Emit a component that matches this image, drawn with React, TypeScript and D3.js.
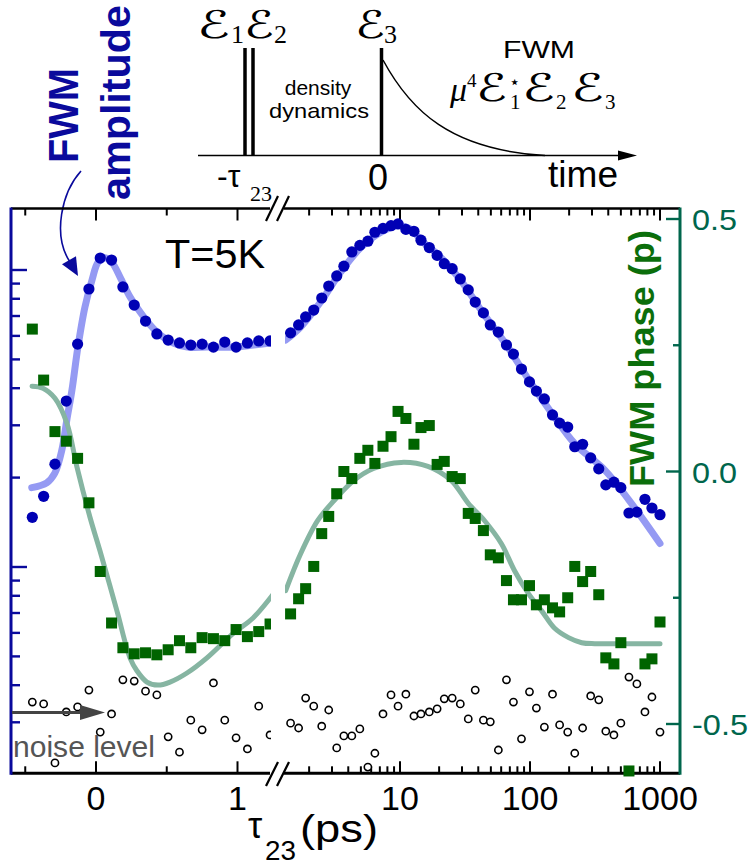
import React from 'react';
import * as d3 from 'd3';

const W = 751;
const H = 865;

// ---------- data: segment 1 (linear delay axis, ps) ----------
const seg1Delay = [-0.45, -0.37, -0.29, -0.21, -0.13, -0.05, 0.03, 0.11, 0.19, 0.27, 0.35, 0.43, 0.51, 0.59, 0.67, 0.75, 0.83, 0.91, 0.99, 1.07, 1.15, 1.23];
const seg1Amp = [1.47, 1.73, 2.22, 3.62, 5.63, 8.63, 10.97, 10.8, 8.77, 7.62, 6.73, 6.09, 5.81, 5.68, 5.59, 5.63, 5.5, 5.72, 5.5, 5.68, 5.77, 5.77];
const seg1Phase = [0.282, 0.181, 0.079, 0.06, 0.026, -0.062, -0.198, -0.3, -0.349, -0.361, -0.359, -0.363, -0.353, -0.335, -0.349, -0.329, -0.331, -0.335, -0.313, -0.327, -0.317, -0.302];
const seg1Noise = [0.351, 0.346, 0.219, 0.325, 0.338, 0.385, 0.278, 0.32, 0.417, 0.413, 0.382, 0.371, 0.268, 0.238, 0.305, 0.283, 0.407, 0.305, 0.266, 0.244, 0.34, 0.272];

// ---------- data: segment 2 (log delay axis, ps) ----------
const seg2Delay = [1.44, 1.66, 1.88, 2.17, 2.5, 2.83, 3.26, 3.7, 4.26, 4.91, 5.66, 6.41, 7.4, 8.53, 9.66, 11.1, 12.8, 14.5, 16.8, 19.3, 21.9, 25.2, 29.1, 33.5, 37.9, 43.8, 49.5, 57.1, 65.9, 74.6, 86.0, 99.1, 112, 129, 149, 169, 195, 221, 254, 293, 338, 383, 442, 500, 577, 664, 766, 867, 1000];
const seg2Amp = [6.14, 6.53, 6.95, 7.33, 8.05, 8.83, 9.55, 10.3, 11.5, 12.1, 12.5, 13.4, 13.8, 14.1, 14.3, 13.7, 13.5, 12.6, 11.9, 11.2, 10.5, 10.1, 9.33, 8.57, 7.8, 7.17, 6.53, 6.18, 5.59, 5.21, 4.64, 4.2, 3.91, 3.68, 3.25, 3.05, 2.96, 2.54, 2.59, 2.33, 2.14, 1.89, 1.93, 1.85, 1.52, 1.53, 1.69, 1.58, 1.5];
const seg2Phase: (number | null)[] = [-0.282, -0.252, -0.232, -0.188, -0.123, -0.089, -0.044, 0.0, -0.014, 0.026, 0.042, 0.016, 0.05, 0.069, 0.119, 0.105, 0.054, 0.087, 0.091, 0.014, 0.02, -0.01, -0.014, -0.083, -0.093, -0.117, -0.165, -0.171, -0.216, -0.254, -0.254, -0.226, -0.264, -0.254, -0.27, -0.278, -0.25, -0.188, -0.218, -0.198, -0.244, -0.369, -0.381, -0.339, -0.593, null, -0.381, -0.371, -0.298];
const seg2Noise = [0.298, 0.287, 0.362, 0.34, 0.291, 0.33, 0.246, 0.27, 0.27, 0.285, 0.212, 0.236, 0.32, 0.371, 0.34, 0.373, 0.315, 0.32, 0.325, 0.333, 0.36, 0.362, 0.346, 0.308, 0.385, 0.305, 0.301, 0.242, 0.417, 0.351, 0.264, 0.38, 0.335, 0.289, 0.373, 0.294, 0.278, 0.236, 0.287, 0.368, 0.357, 0.28, 0.272, 0.298, 0.426, 0.404, 0.325, 0.365, 0.278];

// ---------- fit curves ----------
const fitAmp1Delay = [-0.454, -0.348, -0.291, -0.241, -0.206, -0.17, -0.128, -0.078, -0.028, 0.014, 0.064, 0.113, 0.17, 0.241, 0.312, 0.383, 0.454, 0.546, 0.645, 0.787, 0.972, 1.113, 1.234];
const fitAmp1 = [1.85, 1.92, 2.07, 2.48, 3.13, 3.94, 5.5, 7.51, 9.25, 10.6, 11.0, 10.6, 9.47, 8.11, 7.22, 6.53, 6.04, 5.68, 5.5, 5.5, 5.5, 5.59, 5.68];
const fitAmp2Delay = [1.32, 1.72, 2.45, 3.5, 5.0, 7.13, 9.66, 12.2, 14.5, 20.7, 29.6, 43.0, 65.9, 99.1, 149, 221, 376, 577, 1000];
const fitAmp2 = [5.81, 6.43, 7.8, 9.85, 11.9, 13.4, 14.1, 13.7, 12.6, 11.0, 9.18, 7.22, 5.59, 4.23, 3.27, 2.6, 2.12, 1.68, 1.2];
const fitPhase1Delay = [-0.452, -0.375, -0.29, -0.205, -0.134, -0.042, 0.028, 0.148, 0.24, 0.29, 0.36, 0.438, 0.523, 0.643, 0.784, 0.968, 1.11, 1.244];
const fitPhase1 = [0.169, 0.165, 0.145, 0.095, 0.008, -0.091, -0.157, -0.276, -0.369, -0.395, -0.417, -0.423, -0.417, -0.399, -0.369, -0.321, -0.29, -0.246];
const fitPhase2Delay = [1.32, 1.72, 2.33, 3.1, 4.4, 6.26, 10.2, 16.4, 24.8, 33.5, 44.6, 60.3, 75.9, 97.3, 123, 154, 198, 250, 315, 507, 1000];
const fitPhase2 = [-0.236, -0.163, -0.097, -0.058, -0.018, 0.006, 0.018, 0.01, -0.018, -0.063, -0.097, -0.143, -0.196, -0.242, -0.276, -0.31, -0.329, -0.339, -0.341, -0.341, -0.341];

// ---------- ticks ----------
const linTicks = [-0.5, 0, 0.5, 1];
const linLabels = ['0', '1'];
const linLabelVals = [0, 1];
const logTicks = [2, 3, 4, 5, 6, 7, 8, 9, 10, 20, 30, 40, 50, 60, 70, 80, 90, 100, 200, 300, 400, 500, 600, 700, 800, 900, 1000];
const logLabels = ['10', '100', '1000'];
const logLabelVals = [10, 100, 1000];
const ampTicks = [0.3, 0.4, 0.5, 0.6, 0.7, 0.8, 0.9, 1, 2, 3, 4, 5, 6, 7, 8, 9, 10];
const phaseTicks = [-0.5, -0.25, 0, 0.25, 0.5];
const phaseLabels = ['-0.5', '0.0', '0.5'];
const phaseLabelVals = [-0.5, 0, 0.5];

// ---------- scales ----------
const xLin = d3.scaleLinear().domain([0, 1]).range([96, 237.5]);
const xLog = d3.scaleLog().domain([10, 1000]).range([400, 660]);
const yAmp = d3.scaleLog().domain([1, 10]).range([567, 270]);
const yPh = d3.scaleLinear().domain([0, 0.5]).range([471.5, 219]);

const PL = 11, PR = 680, PT = 208.5, PB = 773.3;
const BREAK1 = 271, BREAK2 = 285;

const SANS = 'Liberation Sans, Arial, sans-serif';
const SERIF = 'Liberation Serif, DejaVu Serif, serif';
const BLUE = '#0000b4';
const NAVY = '#0a0a9c';
const GREEN = '#006400';
const AXGREEN = '#00664c';

const isMajorLog = (v: number) => Math.abs(Math.log10(v) - Math.round(Math.log10(v))) < 1e-9;

export default function App() {
  const lineLin = (xs: number[], ys: number[], y: (v: number) => number) =>
    d3.line<number>().x((_, i) => xLin(xs[i])).y((_, i) => y(ys[i])).curve(d3.curveCatmullRom.alpha(0.5))(ys) || '';
  const lineLog = (xs: number[], ys: number[], y: (v: number) => number) =>
    d3.line<number>().x((_, i) => xLog(xs[i])).y((_, i) => y(ys[i])).curve(d3.curveCatmullRom.alpha(0.5))(ys) || '';

  const sq = 11;
  const script = (x: number, y: number, size = 38, len = 30) => (
    <text x={x} y={y} fontFamily="DejaVu Serif, DejaVu Sans, serif" fontStyle="italic" fontSize={size} textLength={len} lengthAdjust="spacingAndGlyphs">ℰ</text>
  );

  const labelLen = (s: string) => (s.startsWith('-') ? 56 : 45);

  return (
    <svg width={W} height={H} style={{ position: 'absolute', left: 0, top: 0, background: '#fff' }}>
      <defs>
        <clipPath id="c1"><rect x={0} y={0} width={BREAK1} height={H} /></clipPath>
        <clipPath id="c2"><rect x={BREAK2} y={0} width={W - BREAK2} height={H} /></clipPath>
      </defs>

      {/* ---------- schematic at top ---------- */}
      <g>
        <line x1={198} y1={155.5} x2={622} y2={155.5} stroke="#000" strokeWidth={1.6} />
        <polygon points="618,150.5 637,155.5 618,160.5" fill="#000" />
        <line x1={245} y1={48} x2={245} y2={155.5} stroke="#000" strokeWidth={3.5} />
        <line x1={253} y1={48} x2={253} y2={155.5} stroke="#000" strokeWidth={3.5} />
        <line x1={381.5} y1={48} x2={381.5} y2={155.5} stroke="#000" strokeWidth={3.5} />
        <path d="M383,60 C410,110 450,150 545,155.5" fill="none" stroke="#000" strokeWidth={1.5} />
        {script(197, 38, 38, 33)}
        <text x={231} y={43} fontFamily={SERIF} fontSize={26}>1</text>
        {script(244, 38, 38, 30)}
        <text x={274} y={43} fontFamily={SERIF} fontSize={26}>2</text>
        {script(355, 38, 38, 30)}
        <text x={384} y={43} fontFamily={SERIF} fontSize={26}>3</text>
        <text x={318} y={95} fontFamily={SANS} fontSize={21} textAnchor="middle">density</text>
        <text x={319} y={118} fontFamily={SANS} fontSize={21} textAnchor="middle" textLength={100} lengthAdjust="spacingAndGlyphs">dynamics</text>
        <text x={503} y={58} fontFamily={SANS} fontSize={24} textLength={72} lengthAdjust="spacingAndGlyphs">FWM</text>
        <text x={450} y={101} fontFamily={SERIF} fontStyle="italic" fontSize={34}>μ</text>
        <text x={467} y={87} fontFamily={SERIF} fontSize={19}>4</text>
        {script(476, 101, 38, 31)}
        <text x={509} y={88} fontFamily="DejaVu Sans, sans-serif" fontSize={18}>⋆</text>
        <text x={510} y={109} fontFamily={SERIF} fontSize={21}>1</text>
        {script(522, 101, 38, 33)}
        <text x={556} y={109} fontFamily={SERIF} fontSize={21}>2</text>
        {script(571, 101, 38, 33)}
        <text x={605} y={109} fontFamily={SERIF} fontSize={21}>3</text>
        <text x={217} y={187} fontFamily={SANS} fontSize={32}>-τ</text>
        <text x={250} y={201} fontFamily={SERIF} fontSize={22}>23</text>
        <text x={378} y={190} fontFamily={SANS} fontSize={36} textAnchor="middle">0</text>
        <text x={548} y={187} fontFamily={SANS} fontSize={36} textLength={70} lengthAdjust="spacingAndGlyphs">time</text>
      </g>

      {/* ---------- FWM amplitude label + arrow ---------- */}
      <text transform="translate(78,115.5) rotate(-90)" fontFamily={SANS} fontWeight="bold" fontSize={42} fill={NAVY} textAnchor="middle" textLength={95} lengthAdjust="spacingAndGlyphs">FWM</text>
      <text transform="translate(130,102.5) rotate(-90)" fontFamily={SANS} fontWeight="bold" fontSize={40} fill={NAVY} textAnchor="middle" textLength={195} lengthAdjust="spacingAndGlyphs">amplitude</text>
      <path d="M81,171 C62,192 52,235 70,262" fill="none" stroke={NAVY} strokeWidth={1.6} />
      <polygon points="78,276 62,264.3 76,256.3" fill={NAVY} />

      {/* ---------- axes ---------- */}
      <line x1={PL} y1={PT} x2={270} y2={PT} stroke="#000" strokeWidth={2.6} />
      <line x1={284} y1={PT} x2={PR} y2={PT} stroke="#000" strokeWidth={2.6} />
      <line x1={266} y1={221} x2={278} y2={196} stroke="#000" strokeWidth={2.2} />
      <line x1={277} y1={221} x2={289} y2={196} stroke="#000" strokeWidth={2.2} />
      <line x1={PL} y1={PB} x2={270} y2={PB} stroke="#000" strokeWidth={3} />
      <line x1={284} y1={PB} x2={PR} y2={PB} stroke="#000" strokeWidth={3} />
      <line x1={266} y1={786} x2={278} y2={762} stroke="#000" strokeWidth={2.2} />
      <line x1={277} y1={786} x2={289} y2={762} stroke="#000" strokeWidth={2.2} />

      {linTicks.map((v, i) => {
        const major = Number.isInteger(v);
        const L = major ? 12 : 7;
        return (
          <g key={'lt' + i}>
            <line x1={xLin(v)} x2={xLin(v)} y1={PT} y2={PT + L} stroke="#000" strokeWidth={2} />
            <line x1={xLin(v)} x2={xLin(v)} y1={PB} y2={PB - L} stroke="#000" strokeWidth={2} />
          </g>
        );
      })}
      {logTicks.map((v, i) => {
        const L = isMajorLog(v) ? 12 : 7;
        return (
          <g key={'gt' + i}>
            <line x1={xLog(v)} x2={xLog(v)} y1={PT} y2={PT + L} stroke="#000" strokeWidth={2} />
            <line x1={xLog(v)} x2={xLog(v)} y1={PB} y2={PB - L} stroke="#000" strokeWidth={2} />
          </g>
        );
      })}
      {linLabels.map((s, i) => (
        <text key={'ll' + i} x={xLin(linLabelVals[i])} y={810} fontFamily={SANS} fontSize={34} textAnchor="middle">{s}</text>
      ))}
      {logLabels.map((s, i) => (
        <text key={'gl' + i} x={xLog(logLabelVals[i])} y={810} fontFamily={SANS} fontSize={34} textAnchor="middle">{s}</text>
      ))}
      <text x={248} y={838} fontFamily={SANS} fontSize={36}>τ</text>
      <text x={265} y={860} fontFamily={SANS} fontSize={27} textLength={31} lengthAdjust="spacingAndGlyphs">23</text>
      <text x={300} y={842} fontFamily={SANS} fontSize={38} textLength={78} lengthAdjust="spacingAndGlyphs">(ps)</text>

      {/* left axis (amplitude, log) */}
      <line x1={PL} y1={PT - 1} x2={PL} y2={PB + 1.5} stroke={NAVY} strokeWidth={3} />
      {ampTicks.map((v, i) => (
        <line key={'at' + i} x1={PL} x2={PL + (isMajorLog(v) ? 16 : 9)} y1={yAmp(v)} y2={yAmp(v)} stroke={NAVY} strokeWidth={2.4} />
      ))}

      {/* right axis (phase) */}
      <line x1={PR} y1={PT - 1} x2={PR} y2={PB + 1.5} stroke={AXGREEN} strokeWidth={3} />
      {phaseTicks.map((v, i) => (
        <line key={'pt' + i} x1={PR} x2={PR - (i % 2 === 0 ? 14 : 7)} y1={yPh(v)} y2={yPh(v)} stroke={AXGREEN} strokeWidth={2.4} />
      ))}
      {phaseLabels.map((s, i) => (
        <text key={'pl' + i} x={692} y={yPh(phaseLabelVals[i]) + 11} fontFamily={SANS} fontSize={30} fill={AXGREEN} textLength={labelLen(s)} lengthAdjust="spacingAndGlyphs">{s}</text>
      ))}
      <text transform="translate(654,358.5) rotate(-90)" fontFamily={SANS} fontWeight="bold" fontSize={35} fill="#0b6e0b" textAnchor="middle" textLength={257} lengthAdjust="spacingAndGlyphs">FWM phase (p)</text>

      <text x={165} y={268} fontFamily={SANS} fontSize={41} textLength={100} lengthAdjust="spacingAndGlyphs">T=5K</text>

      {/* ---------- fits ---------- */}
      <g clipPath="url(#c1)">
        <path d={lineLin(fitAmp1Delay, fitAmp1, yAmp)} fill="none" stroke="#959af3" strokeWidth={7} strokeLinecap="round" />
        <path d={lineLin(fitPhase1Delay, fitPhase1, yPh)} fill="none" stroke="#86b5a2" strokeWidth={5} strokeLinecap="round" />
      </g>
      <g clipPath="url(#c2)">
        <path d={lineLog(fitAmp2Delay, fitAmp2, yAmp)} fill="none" stroke="#959af3" strokeWidth={7} strokeLinecap="round" />
        <path d={lineLog(fitPhase2Delay, fitPhase2, yPh)} fill="none" stroke="#86b5a2" strokeWidth={5} strokeLinecap="round" />
      </g>

      {/* ---------- markers ---------- */}
      <g clipPath="url(#c1)">
        {seg1Noise.map((v, i) => (
          <circle key={'n1' + i} cx={xLin(seg1Delay[i])} cy={yAmp(v)} r={3.6} fill="#fff" stroke="#000" strokeWidth={1.6} />
        ))}
        {seg1Phase.map((v, i) => (
          <rect key={'p1' + i} x={xLin(seg1Delay[i]) - sq / 2} y={yPh(v) - sq / 2} width={sq} height={sq} fill={GREEN} />
        ))}
        {seg1Amp.map((v, i) => (
          <circle key={'a1' + i} cx={xLin(seg1Delay[i])} cy={yAmp(v)} r={5.6} fill={BLUE} />
        ))}
      </g>
      <g clipPath="url(#c2)">
        {seg2Noise.map((v, i) => (
          <circle key={'n2' + i} cx={xLog(seg2Delay[i])} cy={yAmp(v)} r={3.6} fill="#fff" stroke="#000" strokeWidth={1.6} />
        ))}
        {seg2Phase.map((v, i) => (v === null ? null : (
          <rect key={'p2' + i} x={xLog(seg2Delay[i]) - sq / 2} y={yPh(v) - sq / 2} width={sq} height={sq} fill={GREEN} />
        )))}
        {seg2Amp.map((v, i) => (
          <circle key={'a2' + i} cx={xLog(seg2Delay[i])} cy={yAmp(v)} r={5.6} fill={BLUE} />
        ))}
      </g>

      {/* ---------- noise level annotation ---------- */}
      <line x1={12} y1={712.5} x2={84} y2={712.5} stroke="#444" strokeWidth={3} />
      <polygon points="80,705 105,712.5 80,720" fill="#444" />
      <text x={13} y={757} fontFamily={SANS} fontSize={29} fill="#555" textLength={142} lengthAdjust="spacingAndGlyphs">noise level</text>
    </svg>
  );
}
